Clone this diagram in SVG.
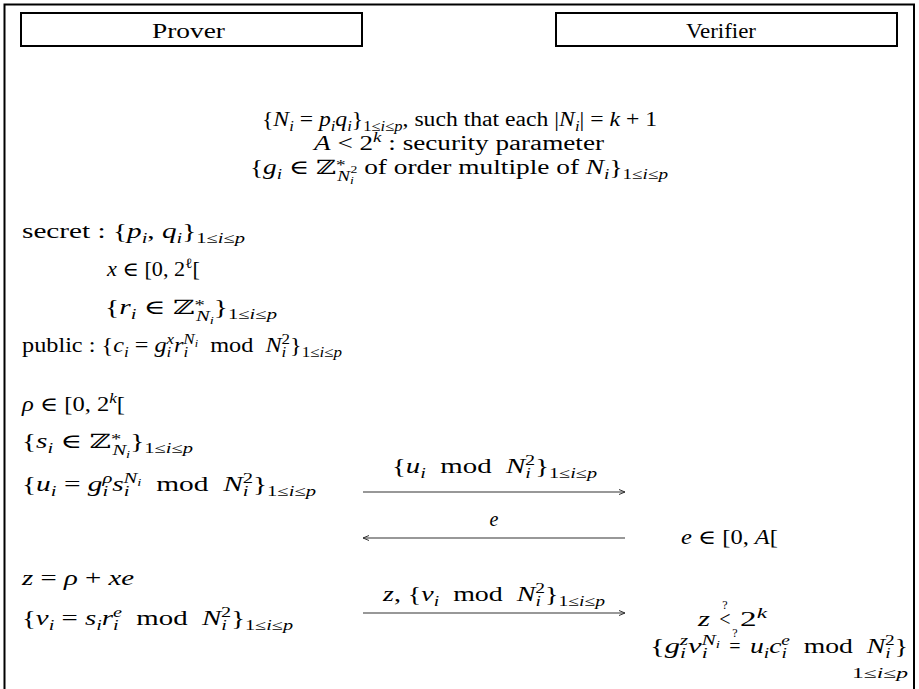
<svg xmlns="http://www.w3.org/2000/svg" width="919" height="689" viewBox="0 0 919 689">
<style>
.t{font-family:"Liberation Serif","DejaVu Serif",serif;font-size:20px;fill:#000}
.i{font-style:italic}
.s{font-size:14px}
.ss{font-size:10px}
.q{font-family:"Liberation Serif",serif;font-size:12px;fill:#000;text-anchor:middle}
.box{fill:none;stroke:#000;stroke-width:2}
.arr{fill:none;stroke:#333;stroke-width:1.2}
</style>
<defs>
<marker id="ah" viewBox="0 0 8 8" refX="7" refY="4" markerWidth="8" markerHeight="8" markerUnits="userSpaceOnUse" orient="auto-start-reverse">
<path d="M1,1.5 L7,4 L1,6.5" fill="none" stroke="#333" stroke-width="1"/>
</marker>
</defs>
<rect width="919" height="689" fill="#fff"/>
<path d="M4.5,689 V4.5 H914 V689" class="box"/>
<g id="prover"><rect x="21" y="13" width="341" height="33" class="box"/><text class="t" x="152" y="38" textLength="73" lengthAdjust="spacingAndGlyphs">Prover</text></g>
<g id="verifier"><rect x="556" y="13" width="341" height="33" class="box"/><text class="t" x="686" y="38" textLength="70" lengthAdjust="spacingAndGlyphs">Verifier</text></g>
<g id="params">
<text class="t" x="262" y="126" textLength="395" lengthAdjust="spacingAndGlyphs">{<tspan class="i">N</tspan><tspan class="s i" dy="5">i</tspan><tspan dy="-5"> = </tspan><tspan class="i">p</tspan><tspan class="s i" dy="5">i</tspan><tspan class="i" dy="-5">q</tspan><tspan class="s i" dy="5">i</tspan><tspan dy="-5">}</tspan><tspan class="s" dy="5">1≤<tspan class="i">i</tspan>≤<tspan class="i">p</tspan></tspan><tspan dy="-5">, such that each |</tspan><tspan class="i">N</tspan><tspan class="s i" dy="5">i</tspan><tspan dy="-5">| = </tspan><tspan class="i">k</tspan><tspan> + 1</tspan></text>
<text class="t" x="314" y="150" textLength="290" lengthAdjust="spacingAndGlyphs"><tspan class="i">A</tspan><tspan> &lt; 2</tspan><tspan class="s i" dy="-8">k</tspan><tspan dy="8"> : security parameter</tspan></text>
<text class="t" x="250" y="174" textLength="418" lengthAdjust="spacingAndGlyphs">{<tspan class="i">g</tspan><tspan class="s i" dy="5">i</tspan><tspan dy="-5"> ∈ ℤ</tspan><tspan class="s" dy="-4">*</tspan><tspan class="s i" dx="-6" dy="11">N</tspan><tspan class="ss i" dy="3">i</tspan><tspan class="ss" dx="-2.5" dy="-11">2</tspan><tspan dy="1"> of order multiple of </tspan><tspan class="i">N</tspan><tspan class="s i" dy="5">i</tspan><tspan dy="-5">}</tspan><tspan class="s" dy="5">1≤<tspan class="i">i</tspan>≤<tspan class="i">p</tspan></tspan></text>
</g>
<g id="prover-keys">
<text class="t" x="22" y="238" textLength="223" lengthAdjust="spacingAndGlyphs">secret : {<tspan class="i">p</tspan><tspan class="s i" dy="5">i</tspan><tspan dy="-5">, </tspan><tspan class="i">q</tspan><tspan class="s i" dy="5">i</tspan><tspan dy="-5">}</tspan><tspan class="s" dy="5">1≤<tspan class="i">i</tspan>≤<tspan class="i">p</tspan></tspan></text>
<text class="t" x="107" y="276" textLength="93" lengthAdjust="spacingAndGlyphs"><tspan class="i">x</tspan> ∈ [0, 2<tspan class="s" dy="-8">ℓ</tspan><tspan dy="8">[</tspan></text>
<text class="t" x="105" y="314" textLength="172" lengthAdjust="spacingAndGlyphs">{<tspan class="i">r</tspan><tspan class="s i" dy="5">i</tspan><tspan dy="-5"> ∈ ℤ</tspan><tspan class="s" dy="-4">*</tspan><tspan class="s i" dx="-6" dy="11">N</tspan><tspan class="ss i" dy="3">i</tspan><tspan dy="-10">}</tspan><tspan class="s" dy="5">1≤<tspan class="i">i</tspan>≤<tspan class="i">p</tspan></tspan></text>
<text class="t" x="22" y="352" textLength="320" lengthAdjust="spacingAndGlyphs">public : {<tspan class="i">c</tspan><tspan class="s i" dy="5">i</tspan><tspan dy="-5"> = </tspan><tspan class="i">g</tspan><tspan class="s i" dy="5">i</tspan><tspan class="s i" dx="-4" dy="-13">x</tspan><tspan class="i" dy="8">r</tspan><tspan class="s i" dy="5">i</tspan><tspan class="s i" dx="-4" dy="-13">N</tspan><tspan class="ss i" dy="3">i</tspan><tspan dy="5"> &#160;mod&#160; </tspan><tspan class="i">N</tspan><tspan class="s i" dy="5">i</tspan><tspan class="s" dx="-4" dy="-13">2</tspan><tspan dy="8">}</tspan><tspan class="s" dy="5">1≤<tspan class="i">i</tspan>≤<tspan class="i">p</tspan></tspan></text>
</g>
<g id="prover-commit">
<text class="t" x="22" y="411" textLength="103" lengthAdjust="spacingAndGlyphs"><tspan class="i">ρ</tspan> ∈ [0, 2<tspan class="s i" dy="-8">k</tspan><tspan dy="8">[</tspan></text>
<text class="t" x="22" y="448" textLength="171" lengthAdjust="spacingAndGlyphs">{<tspan class="i">s</tspan><tspan class="s i" dy="5">i</tspan><tspan dy="-5"> ∈ ℤ</tspan><tspan class="s" dy="-4">*</tspan><tspan class="s i" dx="-6" dy="11">N</tspan><tspan class="ss i" dy="3">i</tspan><tspan dy="-10">}</tspan><tspan class="s" dy="5">1≤<tspan class="i">i</tspan>≤<tspan class="i">p</tspan></tspan></text>
<text class="t" x="22" y="491" textLength="294" lengthAdjust="spacingAndGlyphs">{<tspan class="i">u</tspan><tspan class="s i" dy="5">i</tspan><tspan dy="-5"> = </tspan><tspan class="i">g</tspan><tspan class="s i" dy="5">i</tspan><tspan class="s i" dx="-4" dy="-13">ρ</tspan><tspan class="i" dy="8">s</tspan><tspan class="s i" dy="5">i</tspan><tspan class="s i" dx="-4" dy="-13">N</tspan><tspan class="ss i" dy="3">i</tspan><tspan dy="5"> &#160;mod&#160; </tspan><tspan class="i">N</tspan><tspan class="s i" dy="5">i</tspan><tspan class="s" dx="-4" dy="-13">2</tspan><tspan dy="8">}</tspan><tspan class="s" dy="5">1≤<tspan class="i">i</tspan>≤<tspan class="i">p</tspan></tspan></text>
</g>
<g id="prover-response">
<text class="t" x="22" y="585" textLength="112" lengthAdjust="spacingAndGlyphs"><tspan class="i">z</tspan> = <tspan class="i">ρ</tspan> + <tspan class="i">xe</tspan></text>
<text class="t" x="22" y="625" textLength="271" lengthAdjust="spacingAndGlyphs">{<tspan class="i">v</tspan><tspan class="s i" dy="5">i</tspan><tspan dy="-5"> = </tspan><tspan class="i">s</tspan><tspan class="s i" dy="5">i</tspan><tspan class="i" dy="-5">r</tspan><tspan class="s i" dy="5">i</tspan><tspan class="s i" dx="-4" dy="-13">e</tspan><tspan dy="8"> &#160;mod&#160; </tspan><tspan class="i">N</tspan><tspan class="s i" dy="5">i</tspan><tspan class="s" dx="-4" dy="-13">2</tspan><tspan dy="8">}</tspan><tspan class="s" dy="5">1≤<tspan class="i">i</tspan>≤<tspan class="i">p</tspan></tspan></text>
</g>
<g id="verifier-challenge">
<text class="t" x="681" y="544" textLength="97" lengthAdjust="spacingAndGlyphs"><tspan class="i">e</tspan> ∈ [0, <tspan class="i">A</tspan>[</text>
</g>
<g id="verifier-check">
<text class="t i" x="698" y="626" textLength="12" lengthAdjust="spacingAndGlyphs">z</text>
<text class="t" x="725" y="626" text-anchor="middle">&lt;</text>
<text class="q" x="725" y="609">?</text>
<text class="t" x="740" y="626" textLength="27" lengthAdjust="spacingAndGlyphs">2<tspan class="s i" dy="-8">k</tspan></text>
<text class="t" x="650" y="653" textLength="70" lengthAdjust="spacingAndGlyphs">{<tspan class="i">g</tspan><tspan class="s i" dy="5">i</tspan><tspan class="s i" dx="-4" dy="-13">z</tspan><tspan class="i" dy="8">v</tspan><tspan class="s i" dy="5">i</tspan><tspan class="s i" dx="-4" dy="-13">N</tspan><tspan class="ss i" dy="3">i</tspan></text>
<text class="t" x="735" y="653" text-anchor="middle">=</text>
<text class="q" x="735" y="637">?</text>
<text class="t" x="750" y="653" textLength="158" lengthAdjust="spacingAndGlyphs"><tspan class="i">u</tspan><tspan class="s i" dy="5">i</tspan><tspan class="i" dy="-5">c</tspan><tspan class="s i" dy="5">i</tspan><tspan class="s i" dx="-4" dy="-13">e</tspan><tspan dy="8"> &#160;mod&#160; </tspan><tspan class="i">N</tspan><tspan class="s i" dy="5">i</tspan><tspan class="s" dx="-4" dy="-13">2</tspan><tspan dy="8">}</tspan></text>
<text class="t s" x="852" y="678" textLength="56" lengthAdjust="spacingAndGlyphs">1≤<tspan class="i">i</tspan>≤<tspan class="i">p</tspan></text>
</g>
<g id="connectors">
<line class="arr" x1="363" y1="492" x2="625" y2="492" marker-end="url(#ah)"/>
<line class="arr" x1="625" y1="538" x2="363" y2="538" marker-end="url(#ah)"/>
<line class="arr" x1="363" y1="613" x2="625" y2="613" marker-end="url(#ah)"/>
<text class="t" x="392" y="473" textLength="205" lengthAdjust="spacingAndGlyphs">{<tspan class="i">u</tspan><tspan class="s i" dy="5">i</tspan><tspan dy="-5"> &#160;mod&#160; </tspan><tspan class="i">N</tspan><tspan class="s i" dy="5">i</tspan><tspan class="s" dx="-4" dy="-13">2</tspan><tspan dy="8">}</tspan><tspan class="s" dy="5">1≤<tspan class="i">i</tspan>≤<tspan class="i">p</tspan></tspan></text>
<text class="t i" x="494" y="526" text-anchor="middle">e</text>
<text class="t" x="383" y="601" textLength="222" lengthAdjust="spacingAndGlyphs"><tspan class="i">z</tspan>, {<tspan class="i">v</tspan><tspan class="s i" dy="5">i</tspan><tspan dy="-5"> &#160;mod&#160; </tspan><tspan class="i">N</tspan><tspan class="s i" dy="5">i</tspan><tspan class="s" dx="-4" dy="-13">2</tspan><tspan dy="8">}</tspan><tspan class="s" dy="5">1≤<tspan class="i">i</tspan>≤<tspan class="i">p</tspan></tspan></text>
</g>
</svg>
